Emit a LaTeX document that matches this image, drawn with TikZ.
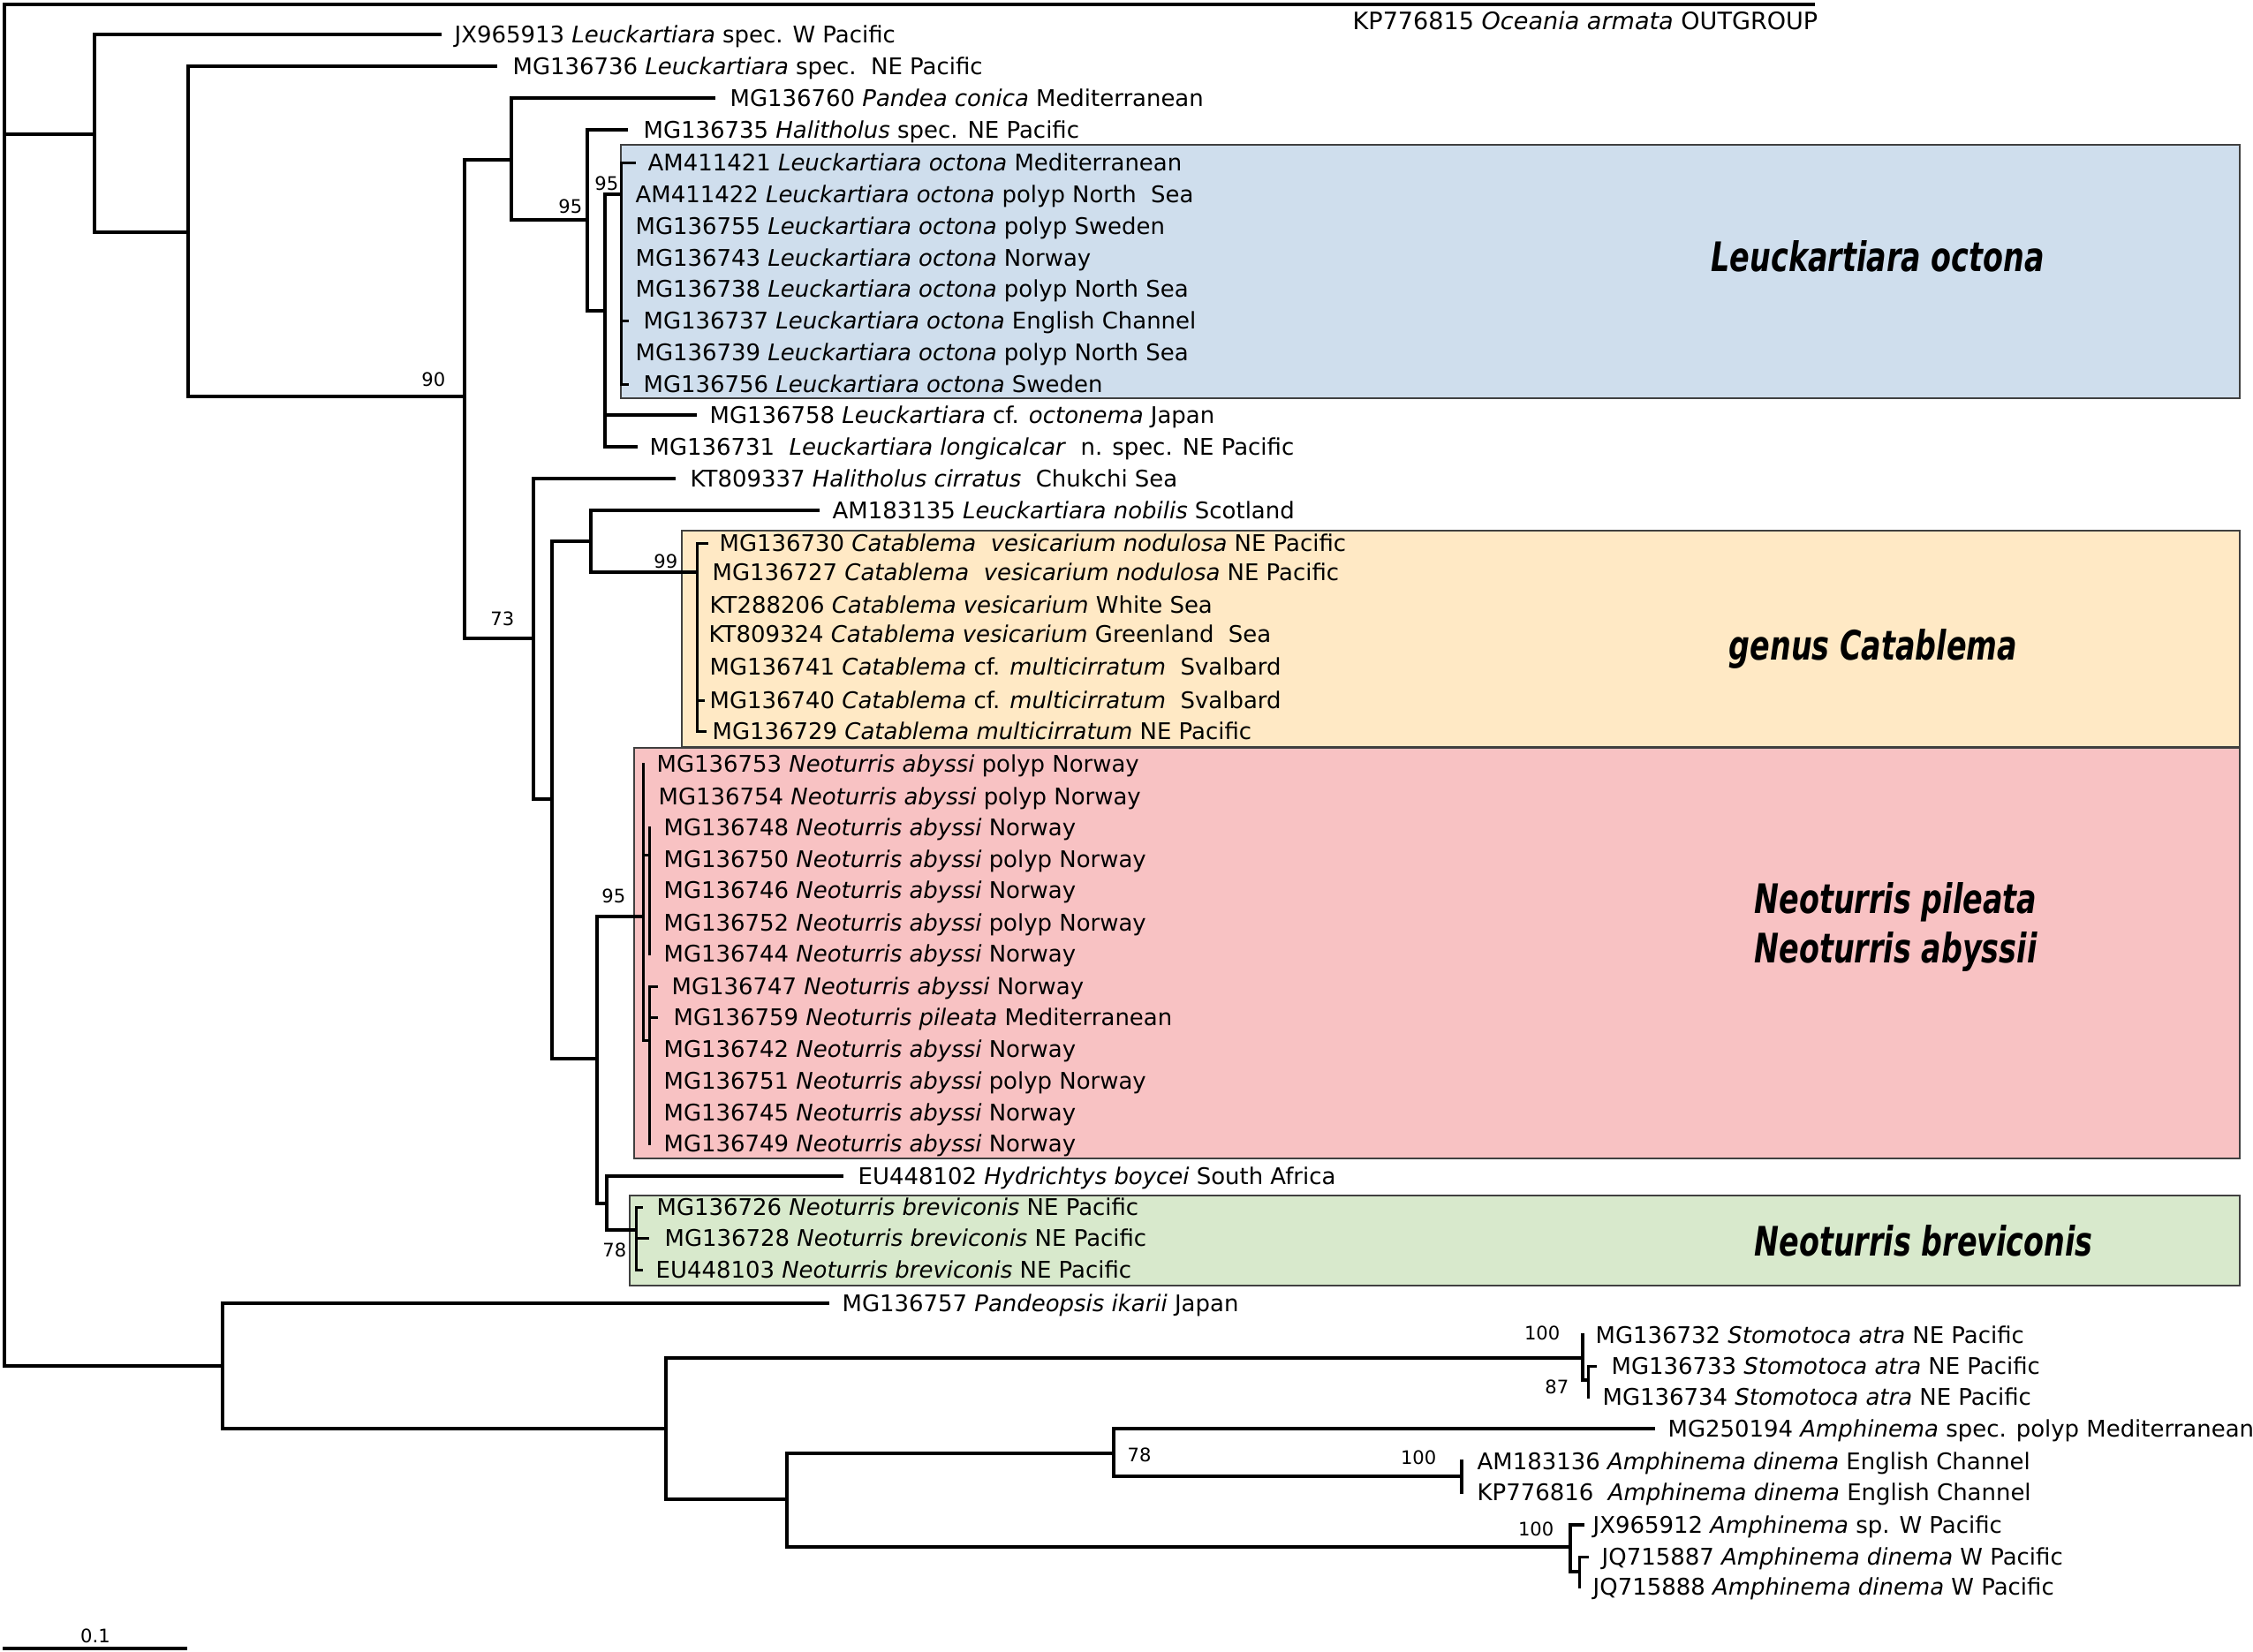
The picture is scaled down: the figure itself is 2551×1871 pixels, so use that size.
\documentclass[tikz,border=0pt]{standalone}
\usepackage{fontspec}
\setmainfont{DejaVu Sans}
\newfontfamily\bigfont{DejaVu Sans}[FakeStretch=0.725]
\definecolor{boxblue}{HTML}{CFDEED}
\definecolor{boxorange}{HTML}{FFE9C5}
\definecolor{boxpink}{HTML}{F8C2C3}
\definecolor{boxgreen}{HTML}{D8E9CC}
\definecolor{boxline}{HTML}{404040}
\newcommand\mkleaf[5]{\coordinate (#1) at (#2,#3);\node[lab] (#1t) at (#4,#3) {#5};}
\begin{document}
\begin{tikzpicture}[x=0.1mm,y=-0.1mm,
  br/.style={line width=0.4mm, line cap=rect, line join=miter},
  brt/.style={line width=0.3mm, line cap=rect, line join=miter},
  lab/.style={anchor=west, inner sep=0pt, text height=1.9mm, text depth=0pt, font=\fontsize{7.38pt}{8pt}\selectfont},
  bs/.style={anchor=east, inner sep=0pt, text height=1.55mm, text depth=0pt, font=\fontsize{6pt}{7pt}\selectfont},
  big/.style={anchor=base west, inner sep=0pt, font=\bigfont\bfseries\itshape\fontsize{13.1pt}{15pt}\selectfont},
  box/.style={draw=boxline, line width=0.15mm}]
\useasboundingbox (0,0) rectangle (2551,1871);
\fill[white] (0,0) rectangle (2551,1871);
% clade boxes
\draw[box, fill=boxblue] (703,164) rectangle (2536,451);
\draw[box, fill=boxorange] (772,601) rectangle (2536,846);
\draw[box, fill=boxpink] (718,847) rectangle (2536,1312);
\draw[box, fill=boxgreen] (713,1354) rectangle (2536,1456);
% big clade names
\node[big] (nocto) at (1937,307) {Leuckartiara octona};
\node[big] (ncata) at (1957,747) {genus Catablema};
\node[big] (npile) at (1986,1034) {Neoturris pileata};
\node[big] (nabys) at (1986,1090) {Neoturris abyssii};
\node[big] (nbrev) at (1986,1422) {Neoturris breviconis};
% internal nodes
\coordinate (root) at (5,152);
\coordinate (A) at (107,152);
\coordinate (B) at (213,263);
\coordinate (C) at (526,449);
\coordinate (D) at (579,181);
\coordinate (F) at (665,249);
\coordinate (G) at (685,352);
\coordinate (H) at (703,220);
\coordinate (E) at (604,723);
\coordinate (J) at (625,905);
\coordinate (I) at (669,613);
\coordinate (L) at (789,648);
\coordinate (K) at (676,1199);
\coordinate (M) at (728,1038);
\coordinate (M1) at (735,968);
\coordinate (M2) at (735,1178);
\coordinate (O) at (687,1363);
\coordinate (N) at (720,1393);
\coordinate (P) at (252,1547);
\coordinate (Q) at (754,1618);
\coordinate (R) at (1792,1538);
\coordinate (R2) at (1798,1563);
\coordinate (S) at (891,1698);
\coordinate (T) at (1261,1646);
\coordinate (V) at (1655,1672);
\coordinate (U) at (1778,1752);
\coordinate (U2) at (1788,1780);
% leaves
\coordinate (KP776815) at (2053,5);
\node[lab, font=\fontsize{7.7pt}{8pt}\selectfont] (KP776815t) at (1531,24) {KP776815 \textit{Oceania armata} OUTGROUP};
\mkleaf{JX965913}{498}{39}{514}{JX965913 \textit{Leuckartiara} spec. W Pacific}
\mkleaf{MG136736}{561}{75}{580}{MG136736 \textit{Leuckartiara} spec.\ \ NE Pacific}
\mkleaf{MG136760}{808}{111}{826}{MG136760 \textit{Pandea conica} Mediterranean}
\mkleaf{MG136735}{709}{147}{728}{MG136735 \textit{Halitholus} spec. NE Pacific}
\mkleaf{AM411421}{718}{184}{733}{AM411421 \textit{Leuckartiara octona} Mediterranean}
\mkleaf{AM411422}{703}{220}{719}{AM411422 \textit{Leuckartiara octona} polyp North\ \ Sea}
\mkleaf{MG136755}{703}{256}{719}{MG136755 \textit{Leuckartiara octona} polyp Sweden}
\mkleaf{MG136743}{703}{292}{719}{MG136743 \textit{Leuckartiara octona} Norway}
\mkleaf{MG136738}{703}{327}{719}{MG136738 \textit{Leuckartiara octona} polyp North Sea}
\mkleaf{MG136737}{710}{363}{728}{MG136737 \textit{Leuckartiara octona} English Channel}
\mkleaf{MG136739}{703}{399}{719}{MG136739 \textit{Leuckartiara octona} polyp North Sea}
\mkleaf{MG136756}{710}{435}{728}{MG136756 \textit{Leuckartiara octona} Sweden}
\mkleaf{MG136758}{787}{470}{803}{MG136758 \textit{Leuckartiara} cf. \textit{octonema} Japan}
\mkleaf{MG136731}{720}{506}{735}{MG136731\ \ \textit{Leuckartiara longicalcar}\ \ n. spec. NE Pacific}
\mkleaf{KT809337}{763}{542}{781}{KT809337 \textit{Halitholus cirratus}\ \ Chukchi Sea}
\mkleaf{AM183135}{926}{578}{942}{AM183135 \textit{Leuckartiara nobilis} Scotland}
\mkleaf{MG136730}{800}{615}{814}{MG136730 \textit{Catablema\ \ vesicarium nodulosa} NE Pacific}
\mkleaf{MG136727}{789}{648}{806}{MG136727 \textit{Catablema\ \ vesicarium nodulosa} NE Pacific}
\mkleaf{KT288206}{789}{685}{803}{KT288206 \textit{Catablema vesicarium} White Sea}
\mkleaf{KT809324}{789}{718}{802}{KT809324 \textit{Catablema vesicarium} Greenland\ \ Sea}
\mkleaf{MG136741}{789}{755}{803}{MG136741 \textit{Catablema} cf. \textit{multicirratum}\ \ Svalbard}
\mkleaf{MG136740}{796}{793}{803}{MG136740 \textit{Catablema} cf. \textit{multicirratum}\ \ Svalbard}
\mkleaf{MG136729}{798}{828}{806}{MG136729 \textit{Catablema multicirratum} NE Pacific}
\mkleaf{MG136753}{728}{865}{743}{MG136753 \textit{Neoturris abyssi} polyp Norway}
\mkleaf{MG136754}{728}{902}{745}{MG136754 \textit{Neoturris abyssi}\ polyp Norway}
\mkleaf{MG136748}{735}{937}{751}{MG136748 \textit{Neoturris abyssi} Norway}
\mkleaf{MG136750}{735}{973}{751}{MG136750 \textit{Neoturris abyssi} polyp Norway}
\mkleaf{MG136746}{735}{1008}{751}{MG136746 \textit{Neoturris abyssi} Norway}
\mkleaf{MG136752}{735}{1045}{751}{MG136752 \textit{Neoturris abyssi} polyp Norway}
\mkleaf{MG136744}{735}{1080}{751}{MG136744 \textit{Neoturris abyssi} Norway}
\mkleaf{MG136747}{743}{1117}{760}{MG136747 \textit{Neoturris abyssi} Norway}
\mkleaf{MG136759}{743}{1152}{762}{MG136759 \textit{Neoturris pileata} Mediterranean}
\mkleaf{MG136742}{735}{1188}{751}{MG136742 \textit{Neoturris abyssi} Norway}
\mkleaf{MG136751}{735}{1224}{751}{MG136751 \textit{Neoturris abyssi} polyp Norway}
\mkleaf{MG136745}{735}{1260}{751}{MG136745 \textit{Neoturris abyssi} Norway}
\mkleaf{MG136749}{735}{1295}{751}{MG136749 \textit{Neoturris abyssi} Norway}
\mkleaf{EU448102}{953}{1332}{971}{EU448102 \textit{Hydrichtys boycei} South Africa}
\mkleaf{MG136726}{726}{1367}{743}{MG136726 \textit{Neoturris breviconis} NE Pacific}
\mkleaf{MG136728}{733}{1402}{752}{MG136728 \textit{Neoturris breviconis} NE Pacific}
\mkleaf{EU448103}{726}{1438}{742}{EU448103 \textit{Neoturris breviconis} NE Pacific}
\mkleaf{MG136757}{937}{1476}{953}{MG136757 \textit{Pandeopsis ikarii} Japan}
\mkleaf{MG136732}{1792}{1512}{1806}{MG136732 \textit{Stomotoca atra} NE Pacific}
\mkleaf{MG136733}{1806}{1547}{1824}{MG136733 \textit{Stomotoca atra} NE Pacific}
\mkleaf{MG136734}{1798}{1582}{1814}{MG136734 \textit{Stomotoca atra} NE Pacific}
\mkleaf{MG250194}{1872}{1618}{1888}{MG250194 \textit{Amphinema} spec. polyp Mediterranean}
\mkleaf{AM183136}{1655}{1655}{1672}{AM183136 \textit{Amphinema dinema} English Channel}
\mkleaf{KP776816}{1655}{1690}{1672}{KP776816\ \ \textit{Amphinema dinema} English Channel}
\mkleaf{JX965912}{1792}{1727}{1803}{JX965912 \textit{Amphinema} sp. W Pacific}
\mkleaf{JQ715887}{1797}{1763}{1813}{JQ715887 \textit{Amphinema dinema} W Pacific}
\mkleaf{JQ715888}{1788}{1797}{1803}{JQ715888 \textit{Amphinema dinema} W Pacific}
% branches
\foreach \c in {KP776815,A,P} \draw[br] (root) |- (\c);
\foreach \c in {JX965913,B} \draw[br] (A) |- (\c);
\foreach \c in {MG136736,C} \draw[br] (B) |- (\c);
\foreach \c in {D,E} \draw[br] (C) |- (\c);
\foreach \c in {MG136760,F} \draw[br] (D) |- (\c);
\foreach \c in {MG136735,G} \draw[br] (F) |- (\c);
\foreach \c in {H,MG136758,MG136731} \draw[br] (G) |- (\c);
\foreach \c in {AM411421,AM411422,MG136755,MG136743,MG136738,MG136737,MG136739,MG136756} \draw[brt] (H) |- (\c);
\foreach \c in {KT809337,J} \draw[br] (E) |- (\c);
\foreach \c in {I,K} \draw[br] (J) |- (\c);
\foreach \c in {AM183135,L} \draw[br] (I) |- (\c);
\foreach \c in {MG136730,MG136727,KT288206,KT809324,MG136741,MG136740,MG136729} \draw[brt] (L) |- (\c);
\foreach \c in {M,O} \draw[br] (K) |- (\c);
\foreach \c in {MG136753,MG136754,M1,M2} \draw[brt] (M) |- (\c);
\foreach \c in {MG136748,MG136750,MG136746,MG136752,MG136744} \draw[brt] (M1) |- (\c);
\foreach \c in {MG136747,MG136759,MG136742,MG136751,MG136745,MG136749} \draw[brt] (M2) |- (\c);
\foreach \c in {EU448102,N} \draw[br] (O) |- (\c);
\foreach \c in {MG136726,MG136728,EU448103} \draw[brt] (N) |- (\c);
\foreach \c in {MG136757,Q} \draw[br] (P) |- (\c);
\foreach \c in {R,S} \draw[br] (Q) |- (\c);
\foreach \c in {MG136732,R2} \draw[br] (R) |- (\c);
\foreach \c in {MG136733,MG136734} \draw[brt] (R2) |- (\c);
\foreach \c in {T,U} \draw[br] (S) |- (\c);
\foreach \c in {MG250194,V} \draw[br] (T) |- (\c);
\foreach \c in {AM183136,KP776816} \draw[br] (V) |- (\c);
\foreach \c in {JX965912,U2} \draw[br] (U) |- (\c);
\foreach \c in {JQ715887,JQ715888} \draw[brt] (U2) |- (\c);
% support values
\node[bs] (s90) at (505,430) {90};
\node[bs] (s95a) at (660,234) {95};
\node[bs] (s95b) at (701,208) {95};
\node[bs] (s73) at (583,701) {73};
\node[bs] (s99) at (768,636) {99};
\node[bs] (s95c) at (709,1015) {95};
\node[bs] (s78a) at (710,1416) {78};
\node[bs] (s100a) at (1767,1510) {100};
\node[bs] (s87) at (1777,1571) {87};
\node[bs, anchor=west] (s78b) at (1276,1648) {78};
\node[bs] (s100b) at (1627,1651) {100};
\node[bs] (s100c) at (1760,1732) {100};
% scale bar
\coordinate (sb0) at (5,1867);
\coordinate (sb1) at (210,1867);
\draw[br] (sb0) -- (sb1);
\node[bs, anchor=center] (sbl) at (108,1853) {0.1};
\end{tikzpicture}
\end{document}
